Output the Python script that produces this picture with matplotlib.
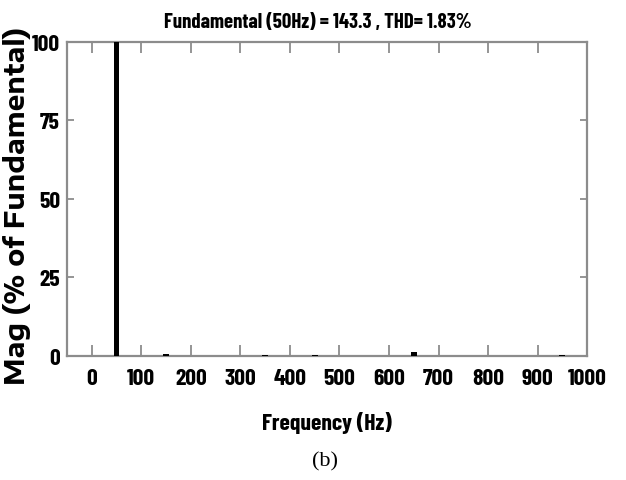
import matplotlib
matplotlib.use("Agg")
import matplotlib.pyplot as plt
import numpy as np

# harmonic spectrum, % of fundamental
freqs = [50, 150, 350, 450, 650, 950]
mags = [100, 0.5, 0.4, 0.4, 1.3, 0.4]

xticks = [0, 100, 200, 300, 400, 500, 600, 700, 800, 900, 1000]
yticks = [0, 25, 50, 75, 100]

title_txt = "Fundamental (50Hz) = 143.3 , THD= 1.83%"
# condensed face, falls back to DejaVu Sans Condensed
narrow = ["Barlow Condensed", "DejaVu Sans"]
wide = ["Encode Sans Expanded", "DejaVu Sans"]
grey = "#8c8c8c"

fig = plt.figure(figsize=(6.26, 4.81), dpi=100)
ax = fig.add_axes([0.107, 0.258, 0.831, 0.653])

ax.bar(freqs, mags, width=12, color="black", zorder=3)

ax.set_xlim(-50, 1000)
ax.set_ylim(0, 100)
ax.set_xticks(xticks)
ax.set_yticks(yticks)

for s in ax.spines.values():
    s.set_color(grey)
    s.set_linewidth(1.6)

ax.tick_params(axis="x", direction="in", length=8, width=1.3, color=grey,
               top=True, pad=9, labelsize=17)
ax.tick_params(axis="y", direction="in", length=5, width=1.3, color=grey,
               right=True, pad=5, labelsize=17)
for lab in ax.get_xticklabels() + ax.get_yticklabels():
    lab.set_family(narrow)
    lab.set_stretch("condensed")
    lab.set_weight("bold")

ax.set_ylabel("Mag (% of Fundamental)", fontsize=19, fontweight="bold",
              fontstretch="expanded", family=wide)
ax.yaxis.set_label_coords(-0.07, 0.48)

fig.text(0.508, 0.953, title_txt, ha="center", va="center",
         fontsize=15, fontweight="bold", fontstretch="condensed", family=narrow)
fig.text(0.522, 0.12, "Frequency (Hz)", ha="center", va="center",
         fontsize=17, fontweight="bold", fontstretch="condensed", family=narrow)
fig.text(0.519, 0.04, "(b)", ha="center", va="center",
         fontsize=16, family=["Liberation Serif", "DejaVu Serif"])

fig.savefig("out.png", dpi=100)
